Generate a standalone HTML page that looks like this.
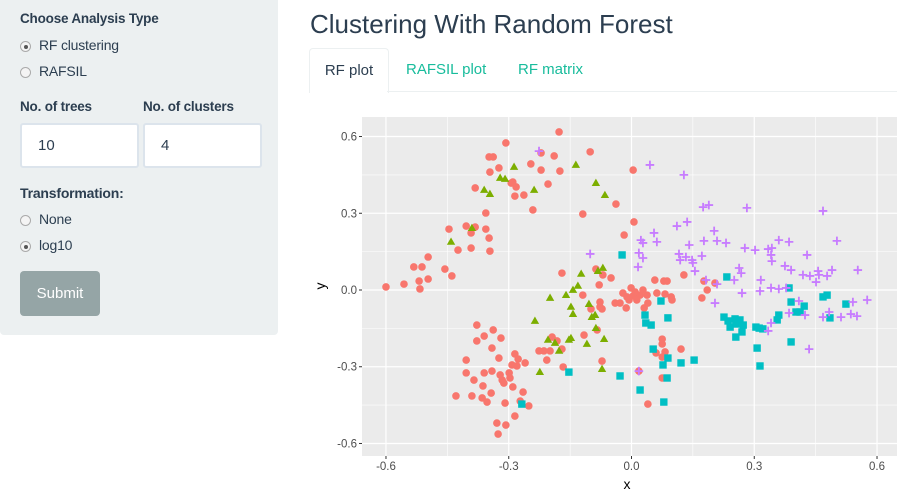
<!DOCTYPE html>
<html><head><meta charset="utf-8"><style>
body{margin:0;width:906px;height:501px;overflow:hidden;background:#fff;font-family:"Liberation Sans",sans-serif;color:#2c3e50;position:relative}
.abs{position:absolute}
#side{left:0;top:-5px;width:278px;height:340px;background:#ecf0f1;border-radius:4px}
.lbl{font-weight:bold;font-size:13.5px;letter-spacing:-0.2px}
.radio{font-size:14px;letter-spacing:-0.2px}
.rb{display:inline-block;width:11px;height:11px;border-radius:50%;border:1px solid #aaa;background:#f4f4f4;vertical-align:-2px;margin-right:8px;box-sizing:border-box;position:relative}
.rb.on::after{content:"";position:absolute;left:2.5px;top:2.5px;width:4px;height:4px;border-radius:50%;background:#555}
.inp{background:#fff;border:2px solid #dce4ec;border-radius:3px;box-sizing:border-box;font-size:15px;padding:12px 0 0 16px}
#btn{left:20px;top:271px;width:80px;height:45px;background:#95a5a6;border-radius:4px;color:#fff;font-size:15px;text-align:center;line-height:45px}
#title{left:310px;top:9px;font-size:26px;color:#2c3e50}
.tab{top:48px;height:44px;line-height:44px;font-size:15px;color:#18bc9c}
#tab1{left:309px;width:78px;border:1px solid #ecf0f1;border-bottom:none;border-radius:4px 4px 0 0;color:#2c3e50;text-align:center;background:#fff}
#tabline{left:387px;top:91px;width:510px;height:1px;background:#ecf0f1}
</style></head><body>
<div id="side" class="abs"></div>
<div class="abs lbl" style="left:20px;top:11px">Choose Analysis Type</div>
<div class="abs radio" style="left:20px;top:37px"><span class="rb on"></span>RF clustering</div>
<div class="abs radio" style="left:20px;top:63px"><span class="rb"></span>RAFSIL</div>
<div class="abs lbl" style="left:20px;top:99px">No. of trees</div>
<div class="abs lbl" style="left:143px;top:99px">No. of clusters</div>
<div class="abs inp" style="left:20px;top:123px;width:119px;height:45px">10</div>
<div class="abs inp" style="left:143px;top:123px;width:119px;height:45px">4</div>
<div class="abs lbl" style="left:20px;top:185px;font-size:14px">Transformation:</div>
<div class="abs radio" style="left:20px;top:211px"><span class="rb"></span>None</div>
<div class="abs radio" style="left:20px;top:237px"><span class="rb on"></span>log10</div>
<div id="btn" class="abs">Submit</div>
<div id="title" class="abs">Clustering With Random Forest</div>
<div id="tab1" class="abs tab">RF plot</div>
<div class="abs tab" style="left:406px">RAFSIL plot</div>
<div class="abs tab" style="left:518px">RF matrix</div>
<div id="tabline" class="abs"></div>
<svg class="abs" style="left:0;top:0" width="906" height="501" id="chart"></svg>
<script>
const xTicks=[-0.6,-0.3,0.0,0.3,0.6];
const yTicks=[-0.6,-0.3,0.0,0.3,0.6];
const xTickLabels=["-0.6","-0.3","0.0","0.3","0.6"];
const yTickLabels=["-0.6","-0.3","0.0","0.3","0.6"];
const redX=[-0.600,-0.556,-0.519,-0.517,-0.497,-0.532,-0.512,-0.497,-0.456,-0.439,-0.446,-0.424,-0.404,-0.392,-0.382,-0.392,-0.382,-0.356,-0.356,-0.348,-0.346,-0.348,-0.338,-0.346,-0.324,-0.307,-0.294,-0.290,-0.282,-0.285,-0.263,-0.246,-0.241,-0.221,-0.221,-0.204,-0.189,-0.177,-0.175,-0.101,-0.119,-0.170,-0.038,0.004,0.006,-0.018,-0.087,-0.070,-0.079,-0.050,-0.119,-0.077,-0.021,-0.040,-0.072,-0.099,-0.116,-0.072,-0.378,-0.338,-0.360,-0.378,-0.319,-0.341,-0.324,-0.285,-0.277,-0.260,-0.292,-0.280,-0.404,-0.404,-0.360,-0.341,-0.321,-0.299,-0.297,-0.316,-0.312,-0.385,-0.363,-0.343,-0.290,-0.265,-0.429,-0.390,-0.365,-0.353,-0.309,-0.272,-0.251,-0.285,-0.329,-0.307,-0.326,-0.226,-0.214,-0.199,-0.207,-0.194,-0.182,-0.170,-0.167,-0.084,-0.077,-0.013,0.057,0.079,0.087,0.128,0.177,0.204,0.185,0.172,-0.001,-0.011,0.004,0.021,0.038,0.040,0.031,-0.028,0.062,0.082,0.097,0.099,0.013,0.075,0.075,0.060,0.082,0.075,0.121,0.018,0.075,0.040,0.009,0.028,-0.006];
const redY=[0.012,0.023,0.035,0.004,0.043,0.090,0.090,0.129,0.082,0.055,0.238,0.156,0.250,0.223,0.246,0.164,0.399,0.301,0.238,0.203,0.152,0.520,0.520,0.461,0.477,0.575,0.418,0.422,0.403,0.367,0.371,0.493,0.313,0.536,0.469,0.414,0.524,0.618,0.465,0.540,0.297,0.066,0.336,0.469,0.266,0.215,0.082,0.059,0.020,0.047,-0.020,-0.047,-0.012,-0.051,-0.074,-0.074,-0.176,-0.278,-0.137,-0.156,-0.180,-0.199,-0.188,-0.227,-0.266,-0.250,-0.270,-0.285,-0.293,-0.297,-0.274,-0.324,-0.324,-0.317,-0.332,-0.324,-0.344,-0.352,-0.364,-0.352,-0.375,-0.403,-0.379,-0.399,-0.414,-0.414,-0.422,-0.438,-0.442,-0.434,-0.453,-0.493,-0.520,-0.528,-0.563,-0.238,-0.238,-0.238,-0.274,-0.184,-0.199,-0.231,-0.301,-0.156,-0.066,-0.070,0.039,0.035,0.035,0.059,0.035,0.027,0.000,-0.031,0.008,-0.027,-0.023,-0.020,-0.020,-0.051,-0.070,-0.051,-0.012,-0.016,-0.027,-0.039,-0.039,-0.192,-0.211,-0.246,-0.242,-0.262,-0.231,-0.317,-0.344,-0.446,-0.008,0.000,-0.039];
const greenX=[-0.441,-0.390,-0.360,-0.346,-0.321,-0.309,-0.287,-0.238,-0.136,-0.087,-0.065,-0.070,-0.082,-0.123,-0.131,-0.143,-0.199,-0.160,-0.148,-0.104,-0.143,-0.097,-0.089,-0.236,-0.204,-0.187,-0.177,-0.153,-0.148,-0.109,-0.087,-0.067,-0.224,-0.072];
const greenY=[0.188,0.242,0.391,0.375,0.438,0.434,0.481,0.391,0.489,0.418,0.371,0.086,0.074,0.063,0.016,0.000,-0.031,-0.020,-0.066,-0.055,-0.094,-0.106,-0.098,-0.121,-0.195,-0.207,-0.238,-0.195,-0.188,-0.211,-0.149,-0.192,-0.321,-0.309];
const cyanX=[-0.023,0.233,0.072,0.089,0.033,0.035,0.048,0.053,0.089,0.077,0.121,0.153,-0.028,0.087,0.021,0.079,0.226,0.236,0.253,0.265,0.273,0.241,0.255,0.270,0.255,0.304,0.312,0.321,0.307,0.314,0.360,0.356,0.390,0.385,0.390,0.402,0.412,0.422,0.468,0.478,0.485,0.524,-0.153,-0.268];
const cyanY=[0.137,0.051,-0.043,-0.109,-0.098,-0.129,-0.137,-0.231,-0.266,-0.293,-0.285,-0.274,-0.336,-0.344,-0.391,-0.438,-0.106,-0.121,-0.113,-0.117,-0.137,-0.145,-0.133,-0.164,-0.184,-0.145,-0.149,-0.152,-0.227,-0.297,-0.098,-0.117,-0.203,0.008,-0.047,-0.086,-0.086,-0.063,-0.027,-0.020,-0.109,-0.055,-0.321,-0.446];
const purpleX=[0.045,0.128,0.175,0.189,0.282,0.468,0.111,0.136,0.055,0.062,0.023,0.028,0.202,0.177,0.209,0.231,0.141,-0.101,0.018,0.028,0.016,0.116,0.119,0.133,0.148,0.150,0.172,0.155,0.277,0.302,0.334,0.343,0.341,0.343,0.360,0.385,0.429,0.502,0.263,0.268,0.316,0.251,0.209,0.182,0.375,0.390,0.419,0.436,0.456,0.458,0.478,0.490,0.553,0.451,0.314,0.270,0.341,0.360,0.378,0.204,0.409,0.385,0.424,0.483,0.468,0.512,0.541,0.536,0.551,0.576,0.341,0.334,0.434,0.018,-0.226];
const purpleY=[0.489,0.450,0.324,0.332,0.321,0.309,0.250,0.266,0.223,0.188,0.195,0.184,0.231,0.192,0.192,0.184,0.176,0.141,0.145,0.125,0.090,0.141,0.117,0.129,0.117,0.106,0.133,0.074,0.164,0.156,0.160,0.164,0.137,0.113,0.195,0.188,0.137,0.192,0.086,0.066,0.039,0.039,0.023,0.039,0.094,0.078,0.059,0.055,0.074,0.059,0.055,0.078,0.078,0.031,-0.004,-0.012,0.008,0.004,0.008,-0.051,-0.043,-0.090,-0.098,-0.086,-0.106,-0.106,-0.047,-0.094,-0.102,-0.039,-0.129,-0.160,-0.231,-0.317,0.543];
const NS='http://www.w3.org/2000/svg';
const svg=document.getElementById('chart');
const P={l:362,r:897,t:117,b:456};
const sx=v=>631.5+v*409.2;
const sy=v=>290-v*255.8;
function mk(tag,at){const e=document.createElementNS(NS,tag);for(const k in at)e.setAttribute(k,at[k]);svg.appendChild(e);return e;}
const bg=mk('rect',{x:P.l,y:P.t,width:P.r-P.l,height:P.b-P.t,fill:'#ebebeb'});


for(let i=0;i<xTicks.length-1;i++){
  const m=(xTicks[i]+xTicks[i+1])/2;
  const g=mk('line',{x1:sx(m),x2:sx(m),y1:P.t,y2:P.b,stroke:'#fff','stroke-width':0.6});
  
  
  const m2=(yTicks[i]+yTicks[i+1])/2;
  const h=mk('line',{x1:P.l,x2:P.r,y1:sy(m2),y2:sy(m2),stroke:'#fff','stroke-width':0.6});
  
  
}
xTicks.forEach((v,i)=>{
  const g=mk('line',{x1:sx(v),x2:sx(v),y1:P.t,y2:P.b,stroke:'#fff','stroke-width':1.2});
  
  
  const t=mk('line',{x1:sx(v),x2:sx(v),y1:P.b,y2:P.b+3,stroke:'#333','stroke-width':1});
  
  
  const l=mk('text',{x:sx(v),y:P.b+14,'text-anchor':'middle','font-size':11.5,fill:'#4d4d4d','font-family':'Liberation Sans, sans-serif'});
  l.textContent=xTickLabels[i];
  
  
});
yTicks.forEach((v,i)=>{
  const g=mk('line',{x1:P.l,x2:P.r,y1:sy(v),y2:sy(v),stroke:'#fff','stroke-width':1.2});
  
  
  const t=mk('line',{x1:P.l-3,x2:P.l,y1:sy(v),y2:sy(v),stroke:'#333','stroke-width':1});
  
  
  const l=mk('text',{x:P.l-5,y:sy(v)+4,'text-anchor':'end','font-size':11.5,fill:'#4d4d4d','font-family':'Liberation Sans, sans-serif'});
  l.textContent=yTickLabels[i];
  
  
});
const xt=mk('text',{x:627,y:489,'text-anchor':'middle','font-size':14,fill:'#000','font-family':'Liberation Sans, sans-serif'});
xt.textContent='x';


const yt=mk('text',{x:325,y:286,'text-anchor':'middle','font-size':14,fill:'#000','font-family':'Liberation Sans, sans-serif',transform:'rotate(-90 325 286)'});
yt.textContent='y';


redX.forEach((v,i)=>{
  const c=mk('circle',{cx:sx(v),cy:sy(redY[i]),r:3.8,fill:'#F8766D'});
  
  
});
greenX.forEach((v,i)=>{
  const x=sx(v),y=sy(greenY[i]);
  const p=mk('polygon',{points:`${x},${y-4.4} ${x-4.2},${y+2.9} ${x+4.2},${y+2.9}`,fill:'#7CAE00'});
  
  
});
cyanX.forEach((v,i)=>{
  const x=sx(v),y=sy(cyanY[i]);
  const r=mk('rect',{x:x-3.7,y:y-3.7,width:7.4,height:7.4,fill:'#00BFC4'});
  
  
});
purpleX.forEach((v,i)=>{
  const x=sx(v),y=sy(purpleY[i]);
  const p=mk('path',{d:`M${x-4.3} ${y}H${x+4.3}M${x} ${y-4.3}V${y+4.3}`,stroke:'#C77CFF','stroke-width':1.8});
  
  
});
</script>
</body></html>
